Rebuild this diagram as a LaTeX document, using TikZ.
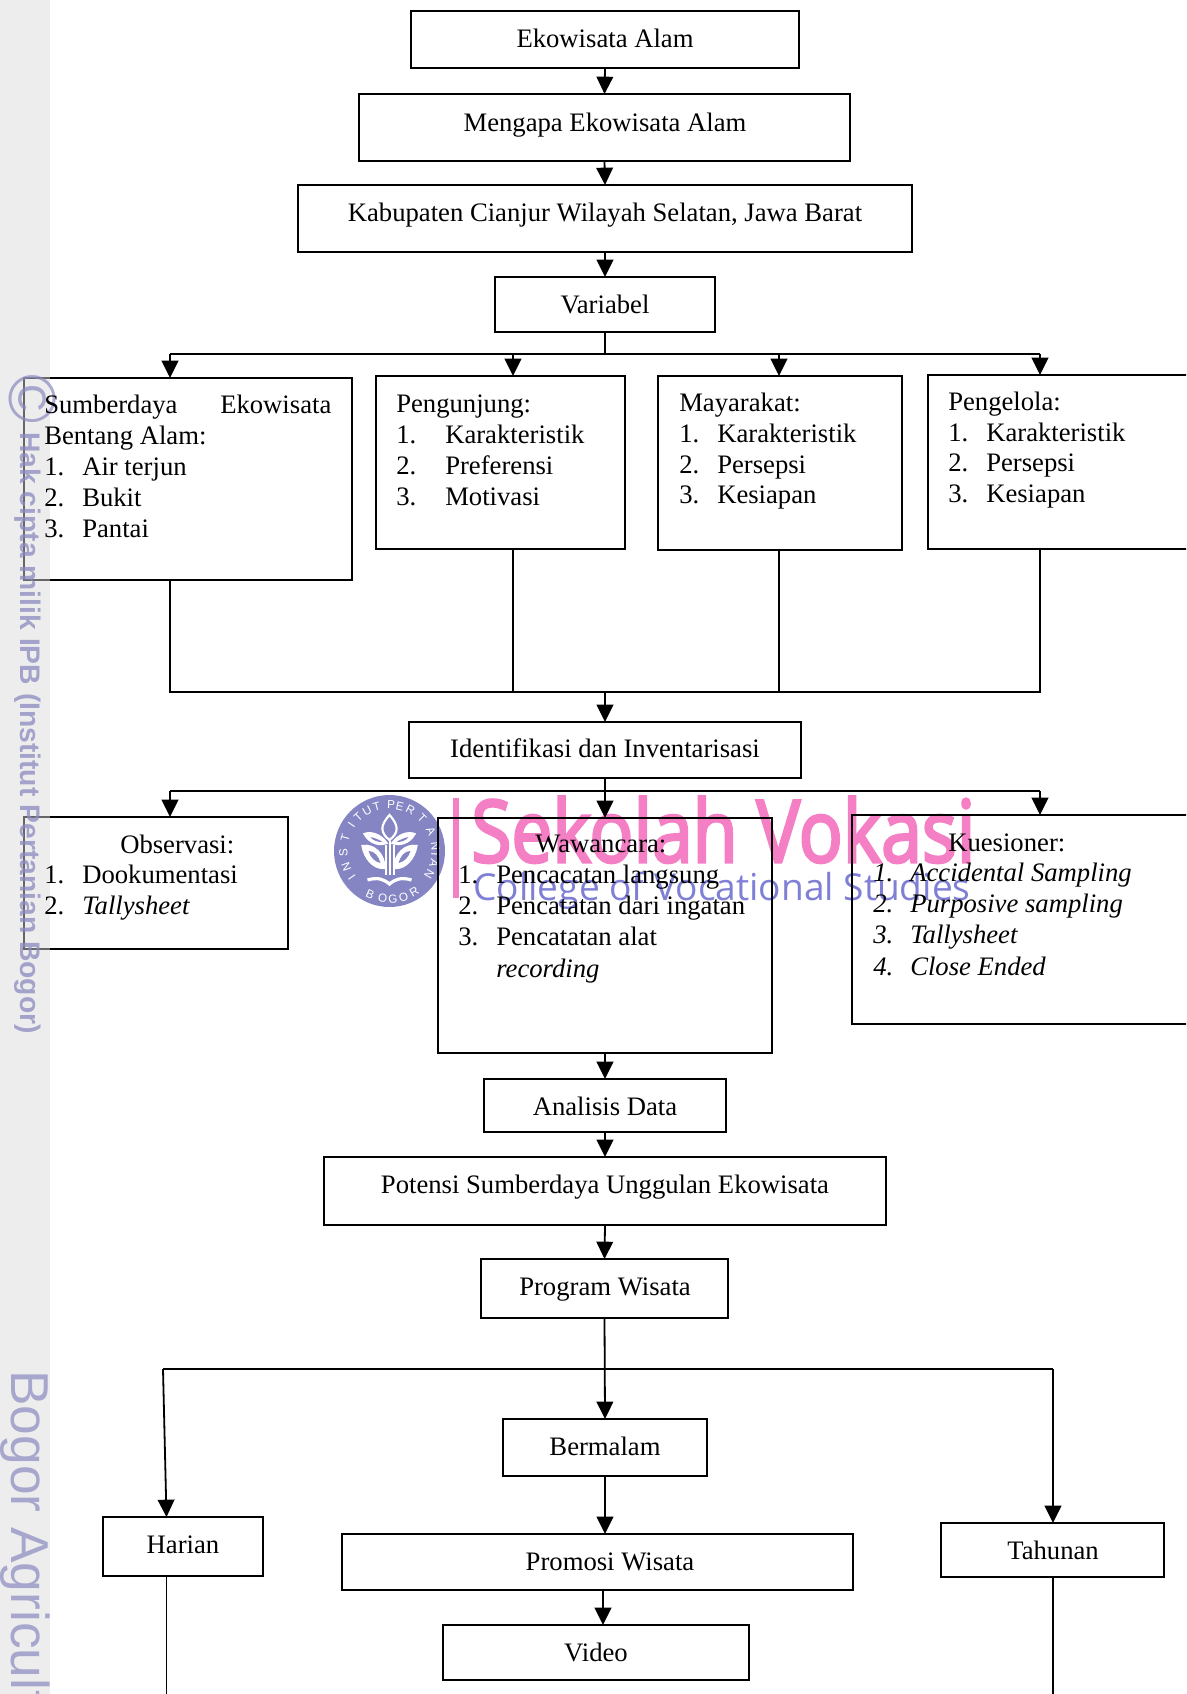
\documentclass[tikz,border=0pt]{standalone}
\usepackage{fontspec}
\setmainfont{Liberation Serif}
\newfontfamily\wmsans{Liberation Sans}
\newfontfamily\wmopen{Open Sans}
\newfontfamily\wmopenb[FakeBold=3.5]{Open Sans}
\usetikzlibrary{arrows.meta,calc}
\definecolor{wmpink}{HTML}{F47FC4}
\definecolor{wmblue}{HTML}{7F7FD6}
\definecolor{wmlogo}{HTML}{8585C4}
\definecolor{wmside}{HTML}{8A8AC0}
\tikzset{
  x=0.75pt,y=-0.75pt,
  boxst/.style={draw=black,line width=1.35pt,inner sep=0pt,outer sep=0pt,rectangle},
  txt/.style={font=\fontsize{20}{23}\selectfont,anchor=base west,inner sep=0pt,text=black},
  ctxt/.style={txt,anchor=base},
  ln/.style={draw=black,line width=1.35pt},
  arr/.style={ln,-{Triangle[width=12.5pt,length=13pt]}},
  lg/.style={text=white,font=\wmsans\fontsize{8.8}{9}\selectfont,inner sep=0pt},
}
\newcommand{\mkbox}[5]{%
  \pgfmathsetmacro{\bw}{(#4-#2)*0.75}\pgfmathsetmacro{\bh}{(#5-#3)*0.75}%
  \node[boxst,minimum width=\bw pt,minimum height=\bh pt] (#1) at ({(#2+#4)/2},{(#3+#5)/2}) {};}
\newcommand{\lab}[4]{\node[txt] (#1) at (#2,#3) {#4};}
\newcommand{\clab}[4]{\node[ctxt] (#1) at (#2,#3) {#4};}
\begin{document}
\begin{tikzpicture}
\useasboundingbox (0,0) rectangle (1186,1694);
\clip (0,0) rectangle (1186,1694);
% central watermark
\fill[wmlogo] (389.5,851) ellipse [x radius=55.5, y radius=56];
\foreach \ch/\ang [count=\i] in {I/-125,N/-110,S/-92,T/-74,I/-56,T/-43,U/-29,T/-16,P/2,E/13,R/27,T/45,A/64,N/84,I/94,A/105,N/120}
  \node[lg,rotate=-\ang] (lgA\i) at ($(389.5,851)+({46*sin(\ang)},{-46*cos(\ang)})$) {\ch};
\foreach \ch/\ang [count=\i] in {B/204,O/188,G/176,O/163,R/149}
  \node[lg,rotate=180-\ang] (lgB\i) at ($(389.5,851)+({48*sin(\ang)},{-48*cos(\ang)})$) {\ch};
% emblem
\begin{scope}[white,line width=1.6pt,shift={(389.5,851)}]
  \draw (0,-36) .. controls (-10,-25) and (-9,-18) .. (0,-11) .. controls (9,-18) and (10,-25) .. (0,-36) -- cycle;
  \draw[fill=white] (-3,-8) .. controls (-10,-18) and (-20,-19) .. (-25,-17) .. controls (-20,-8) and (-10,-5) .. (-3,-8) -- cycle;
  \draw[fill=white] (3,-8) .. controls (10,-18) and (20,-19) .. (25,-17) .. controls (20,-8) and (10,-5) .. (3,-8) -- cycle;
  \draw[fill=white] (-5,17) .. controls (-5,3) and (-16,-7) .. (-27,-5) .. controls (-25,7) and (-16,18) .. (-5,17) -- cycle;
  \draw[fill=white] (5,17) .. controls (5,3) and (16,-7) .. (27,-5) .. controls (25,7) and (16,18) .. (5,17) -- cycle;
  \fill[wmlogo] (-1.5,-25) -- (1.5,-25) -- (1.5,-16) -- (-1.5,-16) -- cycle;
  \fill[wmlogo] (-19,-14) .. controls (-14,-13) and (-10,-11) .. (-7,-9) .. controls (-12,-9) and (-16,-10) .. (-19,-14);
  \fill[wmlogo] (19,-14) .. controls (14,-13) and (10,-11) .. (7,-9) .. controls (12,-9) and (16,-10) .. (19,-14);
  \fill[wmlogo] (-21,0) .. controls (-15,0) and (-11,5) .. (-9,12) .. controls (-14,11) and (-19,7) .. (-21,0);
  \fill[wmlogo] (21,0) .. controls (15,0) and (11,5) .. (9,12) .. controls (14,11) and (19,7) .. (21,0);
  \draw[line width=1.5pt] (-4,-6) -- (-4,24) (0,-10) -- (0,24) (4,-6) -- (4,24);
  \draw[line width=2.4pt] (-22,29) .. controls (-12,26) and (-6,28) .. (0,33) .. controls (6,28) and (12,26) .. (22,29);
\end{scope}
\fill[wmpink] (453,798) rectangle (459,898);
\node[inner sep=0pt,anchor=base west,text=wmpink,font=\wmopenb\fontsize{68}{70}\selectfont] (wmsek) at (471,862) {\resizebox{378pt}{49pt}{Sekolah Vokasi}};
\node[inner sep=0pt,anchor=base west,text=wmblue,font=\wmopen\fontsize{26}{28}\selectfont] (wmcol) at (473,900) {\resizebox{373pt}{!}{College of Vocational Studies}};
% boxes
\mkbox{eko}{411}{11}{799}{68}
\mkbox{men}{359}{94}{850}{161}
\mkbox{kab}{298}{185}{912}{252}
\mkbox{var}{495}{277}{715}{332}
\mkbox{sum}{24}{378}{352}{580}
\mkbox{pen}{376}{376}{625}{549}
\mkbox{may}{658}{376}{902}{550}
\mkbox{pgl}{928}{375}{1200}{549}
\mkbox{ide}{409}{722}{801}{778}
\mkbox{obs}{24}{817}{288}{949}
\mkbox{waw}{438}{818}{772}{1053}
\mkbox{kue}{852}{815}{1200}{1024}
\mkbox{ana}{484}{1079}{726}{1132}
\mkbox{pot}{324}{1157}{886}{1225}
\mkbox{pro}{481}{1259}{728}{1318}
\mkbox{ber}{503}{1419}{707}{1476}
\mkbox{har}{103}{1517}{263}{1576}
\mkbox{prm}{342}{1534}{853}{1590}
\mkbox{vid}{443}{1625}{749}{1680}
\mkbox{tah}{941}{1523}{1164}{1577}
% connectors
\coordinate (c1) at (170,354);
\coordinate (c2) at (513,354);
\coordinate (c3) at (779,354);
\coordinate (c4) at (1040,354);
\coordinate (cm) at (605,354);
\coordinate (d1) at (170,692);
\coordinate (d2) at (513,692);
\coordinate (d3) at (779,692);
\coordinate (d4) at (1040,692);
\coordinate (dm) at (605,692);
\coordinate (e1) at (170,791);
\coordinate (e3) at (1040,791);
\coordinate (em) at (605,791);
\coordinate (f1) at (163,1369);
\coordinate (f2) at (1053,1369);
\coordinate (fm) at (605,1369);
\coordinate (hb) at (166.5,1517);
\coordinate (hs) at (166.5,1694);
\coordinate (ts) at (1053,1694);
\coordinate (vx) at (603,1600);
\draw[arr] (eko.south) -- (men.north);
\draw[arr] (men.south) -- (kab.north);
\draw[arr] (kab.south) -- (var.north);
\draw[ln] (var.south) -- (cm);
\draw[ln] (c1) -- (c4);
\draw[arr] (c1) -- (c1 |- sum.north);
\draw[arr] (c2) -- (c2 |- pen.north);
\draw[arr] (c3) -- (c3 |- may.north);
\draw[arr] (c4) -- (c4 |- pgl.north);
\draw[ln] (d1 |- sum.south) -- (d1) -- (d4) -- (d4 |- pgl.south);
\draw[ln] (d2 |- pen.south) -- (d2);
\draw[ln] (d3 |- may.south) -- (d3);
\draw[arr] (dm) -- (ide.north);
\draw[ln] (e1) -- (e3);
\draw[arr] (ide.south) -- (waw.north);
\draw[arr] (e1) -- (e1 |- obs.north);
\draw[arr] (e3) -- (e3 |- kue.north);
\draw[arr] (waw.south) -- (ana.north);
\draw[arr] (ana.south) -- (pot.north);
\draw[arr] (pot.south) -- (pro.north);
\draw[arr] (pro.south) -- (ber.north);
\draw[ln] (f1) -- (f2);
\draw[arr] (f1) -- (hb);
\draw[arr] (f2) -- (f2 |- tah.north);
\draw[arr] (ber.south) -- (ber.south |- prm.north);
\draw[arr] (vx |- prm.south) -- (vx |- vid.north);
\draw[ln] (hb |- har.south) -- (hs);
\draw[ln] (f2 |- tah.south) -- (ts);
% labels
\clab{ekoT}{605}{48}{Ekowisata Alam}
\clab{menT}{605}{132}{Mengapa Ekowisata Alam}
\clab{kabT}{605}{222}{Kabupaten Cianjur Wilayah Selatan, Jawa Barat}
\clab{varT}{605}{313}{Variabel}
\lab{pen0}{396}{412}{Pengunjung:}
\lab{pen1a}{396}{443}{1.}\lab{pen1b}{445}{443}{Karakteristik}
\lab{pen2a}{396}{474}{2.}\lab{pen2b}{445}{474}{Preferensi}
\lab{pen3a}{396}{505}{3.}\lab{pen3b}{445}{505}{Motivasi}
\lab{may0}{679}{411}{Mayarakat:}
\lab{may1a}{679}{442}{1.}\lab{may1b}{717}{442}{Karakteristik}
\lab{may2a}{679}{473}{2.}\lab{may2b}{717}{473}{Persepsi}
\lab{may3a}{679}{503}{3.}\lab{may3b}{717}{503}{Kesiapan}
\lab{pgl0}{948}{410}{Pengelola:}
\lab{pgl1a}{948}{441}{1.}\lab{pgl1b}{986}{441}{Karakteristik}
\lab{pgl2a}{948}{471}{2.}\lab{pgl2b}{986}{471}{Persepsi}
\lab{pgl3a}{948}{502}{3.}\lab{pgl3b}{986}{502}{Kesiapan}
\clab{ideT}{605}{757}{Identifikasi dan Inventarisasi}
\lab{waw0}{535}{852}{Wawancara:}
\lab{waw1a}{458}{883}{1.}\lab{waw1b}{496}{883}{Pencacatan langsung}
\lab{waw2a}{458}{914}{2.}\lab{waw2b}{496}{914}{Pencatatan dari ingatan}
\lab{waw3a}{458}{945}{3.}\lab{waw3b}{496}{945}{Pencatatan alat}
\lab{waw4b}{496}{977}{\itshape recording}
\lab{kue0}{948}{851}{Kuesioner:}
\lab{kue1a}{873}{881}{\itshape 1.}\lab{kue1b}{910}{881}{\itshape Accidental Sampling}
\lab{kue2a}{873}{912}{\itshape 2.}\lab{kue2b}{910}{912}{\itshape Purposive sampling}
\lab{kue3a}{873}{943}{\itshape 3.}\lab{kue3b}{910}{943}{\itshape Tallysheet}
\lab{kue4a}{873}{975}{\itshape 4.}\lab{kue4b}{910}{975}{\itshape Close Ended}
\clab{anaT}{605}{1115}{Analisis Data}
\clab{potT}{605}{1193}{Potensi Sumberdaya Unggulan Ekowisata}
\clab{proT}{605}{1295}{Program Wisata}
\clab{berT}{605}{1455}{Bermalam}
\clab{harT}{183}{1553}{Harian}
\clab{prmT}{610}{1570}{Promosi Wisata}
\clab{vidT}{596}{1661}{Video}
\clab{tahT}{1053}{1559}{Tahunan}
% side strip and side watermark
\fill[gray!30!white,opacity=0.47] (0,0) rectangle (50,1694);
\node[inner sep=0pt,rotate=-90,anchor=base west,text=wmside,opacity=0.75,font=\wmsans\bfseries\fontsize{21.2}{22}\selectfont] (sideA) at (21,432) {Hak cipta milik IPB (Institut Pertanian Bogor)};
\node[inner sep=0pt,rotate=-90,anchor=base,text=wmside,opacity=0.7,font=\wmsans\fontsize{50}{52}\selectfont] (sideC) at (9,399) {©};
\node[inner sep=0pt,rotate=-90,anchor=base west,text=wmside,opacity=0.7,font=\wmsans\fontsize{40}{44}\selectfont] (sideB) at (12,1370) {Bogor Agricult};
% left box labels (over the strip)
\lab{sum0a}{44}{413}{Sumberdaya}\lab{sum0b}{220}{413}{Ekowisata}
\lab{sum1}{44}{444}{Bentang Alam:}
\lab{sum2a}{44}{475}{1.}\lab{sum2b}{82}{475}{Air terjun}
\lab{sum3a}{44}{506}{2.}\lab{sum3b}{82}{506}{Bukit}
\lab{sum4a}{44}{537}{3.}\lab{sum4b}{82}{537}{Pantai}
\lab{obs0}{120}{853}{Observasi:}
\lab{obs1a}{44}{883}{1.}\lab{obs1b}{82}{883}{Dookumentasi}
\lab{obs2a}{44}{914}{2.}\lab{obs2b}{82}{914}{\itshape Tallysheet}
\end{tikzpicture}
\end{document}
